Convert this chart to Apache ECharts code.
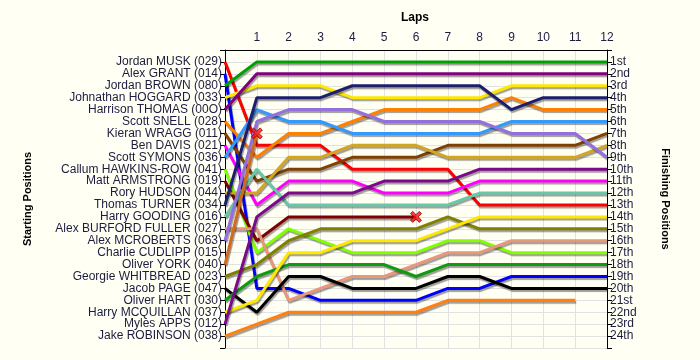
<!DOCTYPE html>
<html>
<head>
<meta charset="utf-8">
<script src="https://cdn.jsdelivr.net/npm/echarts@6/dist/echarts.min.js"></script>
<style>
html,body{margin:0;padding:0;background:#fffff4;}
#chart{width:700px;height:360px;}
</style>
</head>
<body>
<div id="chart"></div>
<script>
// Laps (x values)
const laps = [0,1,2,3,4,5,6,7,8,9,10,11,12];

// Starting grid (left axis labels, position 1..24)
const starters = [
  'Jordan MUSK (029)','Alex GRANT (014)','Jordan BROWN (080)','Johnathan HOGGARD (033)',
  'Harrison THOMAS (00O)','Scott SNELL (028)','Kieran WRAGG (011)','Ben DAVIS (021)',
  'Scott SYMONS (036)','Callum HAWKINS-ROW (041)','Matt ARMSTRONG (019)','Rory HUDSON (044)',
  'Thomas TURNER (034)','Harry GOODING (016)','Alex BURFORD FULLER (027)','Alex MCROBERTS (063)',
  'Charlie CUDLIPP (015)','Oliver YORK (040)','Georgie WHITBREAD (023)','Jacob PAGE (047)',
  'Oliver HART (030)','Harry MCQUILLAN (037)','Myles APPS (012)','Jake ROBINSON (038)'
];

// Finishing position labels (right axis)
const finishLabels = ['1st','2nd','3rd','4th','5th','6th','7th','8th','9th','10th','11th','12th',
  '13th','14th','15th','16th','17th','18th','19th','20th','21st','22nd','23rd','24th'];

// Position per lap (lap 0 .. lap 12), null = not running
const posMusk      = [1,8,8,8,10,10,10,10,13,13,13,13,13];
const posGrant     = [2,20,20,21,21,21,21,20,20,19,19,19,19];
const posBrown     = [3,1,1,1,1,1,1,1,1,1,1,1,1];
const posHoggard   = [4,3,3,3,4,4,4,4,4,3,3,3,3];
const posThomas    = [5,2,2,2,2,2,2,2,2,2,2,2,2];
const posSnell     = [6,9,7,7,6,5,5,5,5,4,5,5,5];
const posWragg     = [7,11,10,10,9,9,9,8,8,8,8,8,7];
const posDavis     = [8,13,11,11,11,12,12,12,11,11,11,11,11];
const posSymons    = [9,5,6,6,7,7,7,7,7,6,6,6,6];
const posHawkins   = [10,17,15,16,17,17,17,16,16,17,17,17,17];
const posArmstrong = [11,16,14,14,14,14,14,null,null,null,null,null,null];
const posHudson    = [12,12,9,9,8,8,8,9,9,9,9,9,8];
const posTurner    = [13,4,4,4,3,3,3,3,3,5,4,4,4];
const posGooding   = [14,10,13,13,13,13,13,13,12,12,12,12,12];
const posBurford   = [15,15,21,20,19,19,18,17,17,16,16,16,16];
const posMcroberts = [16,6,5,5,5,6,6,6,6,7,7,7,9];
const posCudlipp   = [17,null,null,null,null,null,null,null,null,null,null,null,null];
const posYork      = [18,7,null,null,null,null,null,null,null,null,null,null,null];
const posWhitbread = [19,18,16,15,15,15,15,14,15,15,15,15,15];
const posPage      = [20,22,19,19,20,20,20,19,19,20,20,20,20];
const posHart      = [21,19,18,18,18,18,19,18,18,18,18,18,18];
const posMcquillan = [22,21,17,17,16,16,16,15,14,14,14,14,14];
const posApps      = [23,14,12,12,12,11,11,11,10,10,10,10,10];
const posRobinson  = [24,23,22,22,22,22,22,21,21,21,21,21,null];

// Retirements [lap, position]
const retired = [[1,7],[6,14]];

const driverPositions = [posMusk,posGrant,posBrown,posHoggard,posThomas,posSnell,posWragg,posDavis,
  posSymons,posHawkins,posArmstrong,posHudson,posTurner,posGooding,posBurford,posMcroberts,
  posCudlipp,posYork,posWhitbread,posPage,posHart,posMcquillan,posApps,posRobinson];

const lineColors = ['#ff0000','#0000ff','#00a000','#ffe800','#800080','#ff8000','#804000','#ff00ff',
  '#3399ff','#80ff00','#800000','#d4a520','#1e1e6e','#66c8a8','#e9967a','#9370db',
  '#808080','#d2691e','#808000','#000000','#109a10','#ffe800','#7a0a8a','#ff8010'];

const series = driverPositions.map((arr, i) => ({
  name: starters[i],
  type: 'line',
  xAxisIndex: 0,
  yAxisIndex: 0,
  data: laps.map((l, j) => arr[j] == null ? null : [l, arr[j]]).filter(d => d !== null),
  symbol: 'none',
  silent: true,
  lineStyle: {
    color: lineColors[i], width: 3,
    shadowColor: 'rgba(0,0,0,0.38)', shadowOffsetX: 1, shadowOffsetY: 2, shadowBlur: 1
  },
  z: 2
}));

series.push({
  type: 'scatter',
  data: retired,
  symbol: 'path://M2,0 L5,3 L8,0 L10,2 L7,5 L10,8 L8,10 L5,7 L2,10 L0,8 L3,5 L0,2 Z',
  symbolSize: 11,
  itemStyle: { color: '#ff1010', borderColor: '#800000', borderWidth: 1 },
  z: 5
});

const txt = { fontFamily: 'Liberation Sans, Arial, sans-serif', fontSize: 12, color: '#1c1c40' };

const chart = echarts.init(document.getElementById('chart'), null, { renderer: 'canvas' });
chart.setOption({
  animation: false,
  backgroundColor: '#fffff4',
  grid: { left: 225, right: 93, top: 50, bottom: 12, containLabel: false },
  xAxis: {
    type: 'value', position: 'top', min: 0, max: 12, interval: 1,
    axisLine: { show: true, lineStyle: { color: '#000', width: 1 } },
    axisTick: { show: false },
    axisLabel: Object.assign({}, txt, { margin: 6, formatter: v => v === 0 ? '' : String(v) }),
    splitLine: { show: true, lineStyle: { color: '#e2e2e2', width: 1 } }
  },
  yAxis: [
    {
      type: 'value', position: 'left', inverse: true, min: 0, max: 25, interval: 1,
      axisLine: { show: true, lineStyle: { color: '#000', width: 1 } },
      axisTick: { show: true, length: 5, lineStyle: { color: '#000' } },
      axisLabel: Object.assign({}, txt, { margin: 3, formatter: v => (v >= 1 && v <= 24) ? starters[v - 1] : '' }),
      splitLine: { show: true, lineStyle: { color: '#e2e2e2', width: 1 } }
    },
    {
      type: 'value', position: 'right', inverse: true, min: 0, max: 25, interval: 1,
      axisLine: { show: true, lineStyle: { color: '#000', width: 1 } },
      axisTick: { show: true, length: 5, lineStyle: { color: '#000' } },
      axisLabel: Object.assign({}, txt, { margin: 3, formatter: v => (v >= 1 && v <= 24) ? finishLabels[v - 1] : '' }),
      splitLine: { show: false }
    }
  ],
  graphic: [
    { type: 'text', left: 401, top: 12, style: { text: 'Laps', font: 'bold 12px Liberation Sans, Arial, sans-serif', fill: '#000' } },
    { type: 'text', x: 28, y: 199, rotation: Math.PI / 2,
      style: { text: 'Starting Positions', font: 'bold 11px Liberation Sans, Arial, sans-serif', fill: '#000', align: 'center', verticalAlign: 'middle' } },
    { type: 'text', x: 665, y: 199, rotation: -Math.PI / 2,
      style: { text: 'Finishing Positions', font: 'bold 11px Liberation Sans, Arial, sans-serif', fill: '#000', align: 'center', verticalAlign: 'middle' } }
  ],
  series: series
});
</script>
</body>
</html>
